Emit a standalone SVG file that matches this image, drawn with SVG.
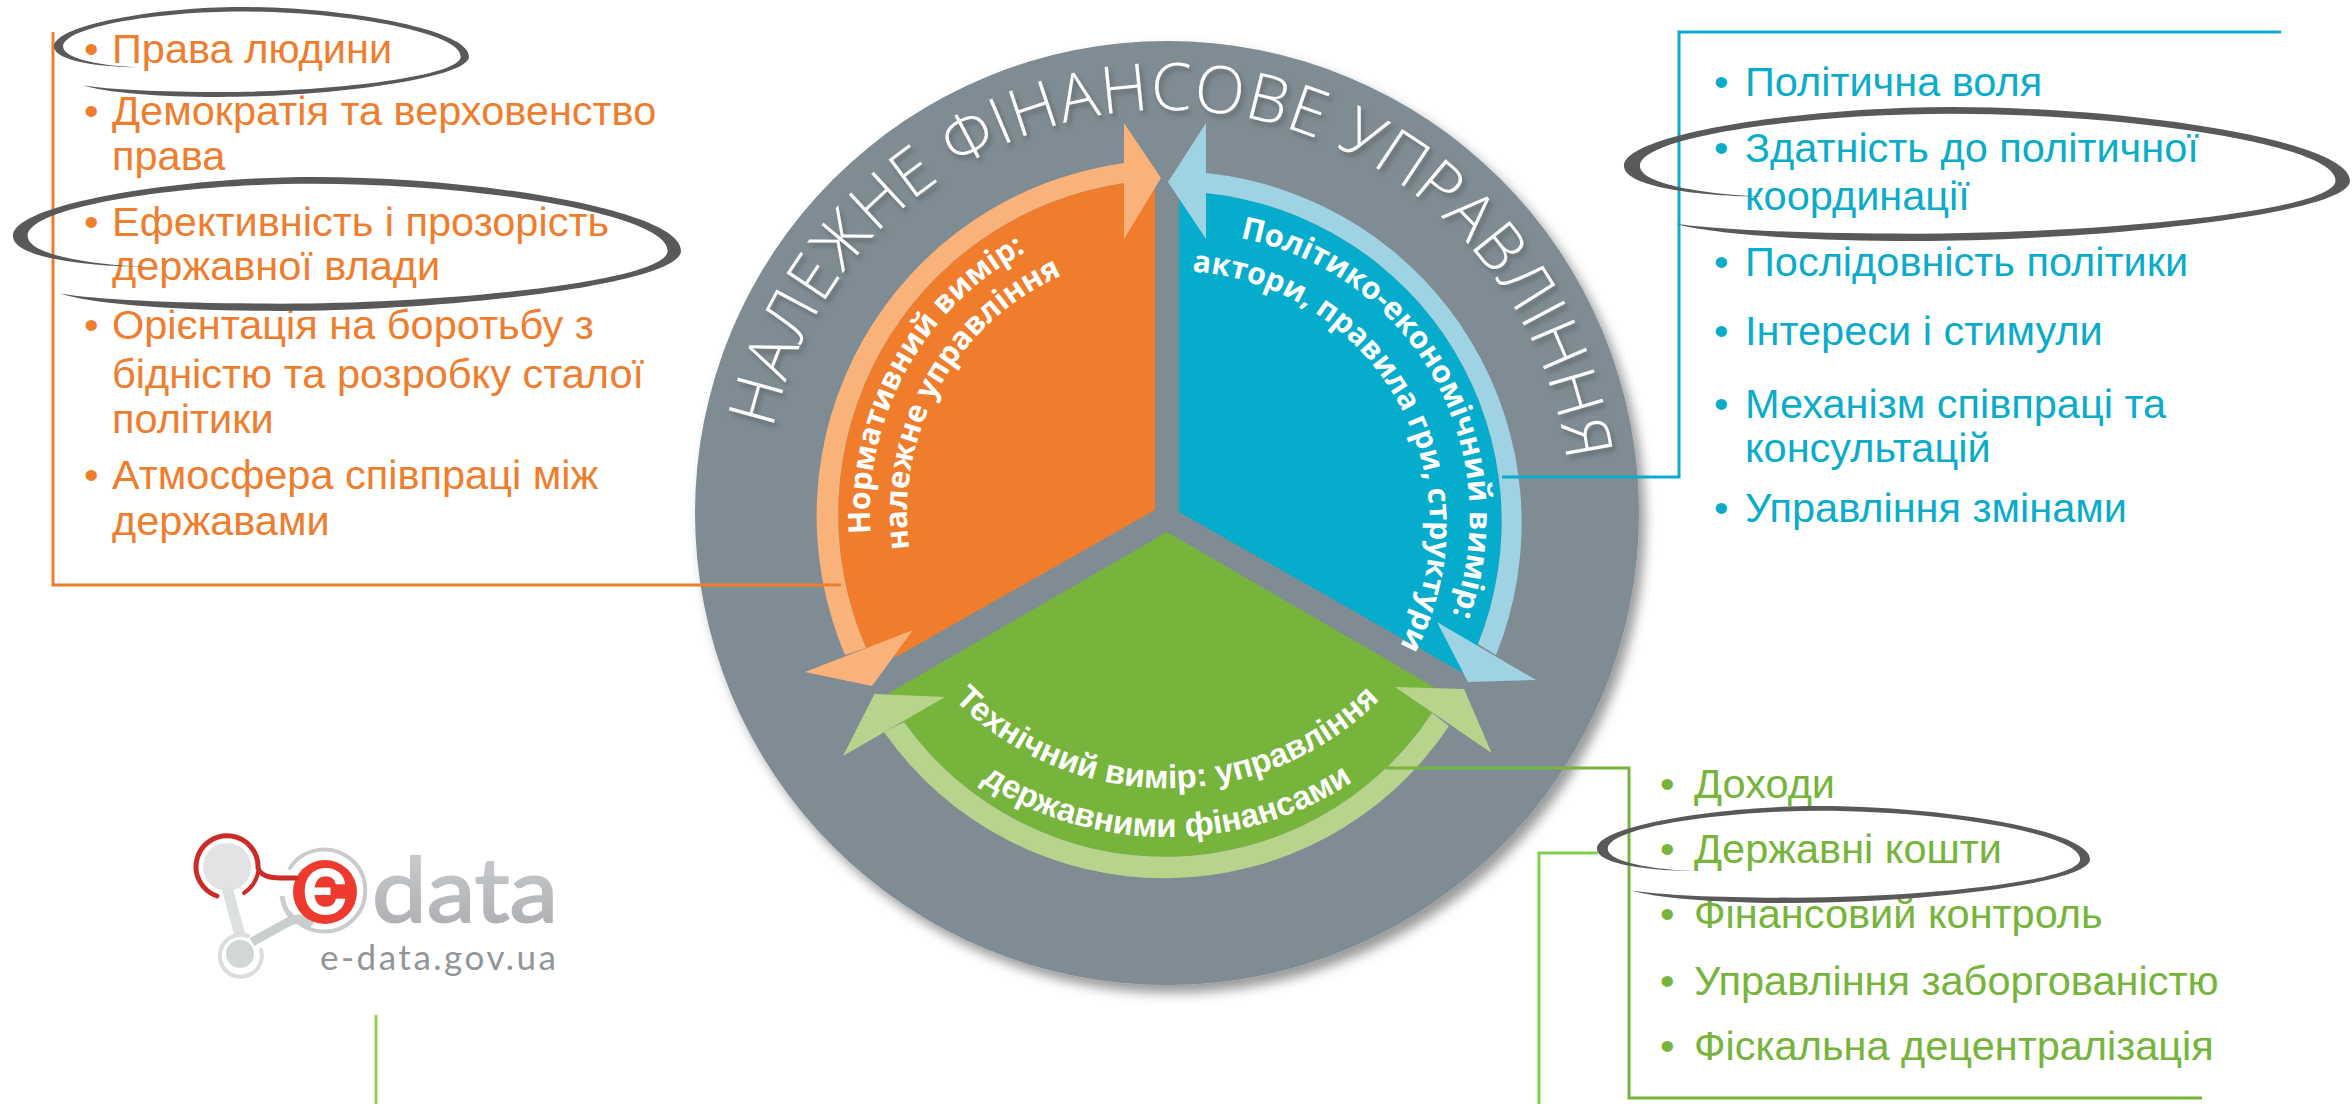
<svg xmlns="http://www.w3.org/2000/svg" width="2352" height="1104" viewBox="0 0 2352 1104">
<defs>
<style>
text{font-family:"Liberation Sans",Arial,sans-serif}
.o{fill:#EE7E2E}.b{fill:#0BACCB}.g{fill:#76B43C}
.li{font-size:41.5px}
.t{fill:#fff;font-family:"Open Sans","Liberation Sans",sans-serif;font-weight:300;font-size:65.5px;letter-spacing:1px}
.c{fill:#fff;font-family:"Open Sans","Liberation Sans",sans-serif;font-weight:700;font-size:31px}
.c2{font-size:30.3px}
.c3{font-size:30.5px}
.cg{fill:#fff;font-family:"Liberation Sans",sans-serif;font-weight:700;font-size:33px}
.ln{fill:none;stroke-width:3}
</style>
<filter id="ds" x="-10%" y="-10%" width="125%" height="125%"><feDropShadow dx="6" dy="8" stdDeviation="6" flood-color="#000" flood-opacity=".4"/></filter>
<filter id="ts" x="-10%" y="-10%" width="120%" height="120%"><feDropShadow dx="3" dy="4" stdDeviation="2.5" flood-color="#000" flood-opacity=".25"/></filter>
<linearGradient id="lg" x1="0" y1="0" x2="0" y2="1"><stop offset="0" stop-color="#CFD2D4"/><stop offset="1" stop-color="#A9ABAE"/></linearGradient>
<path id="p-title" d="M773 429A403 403 0 0 1 1568 471"/>
<path id="p-o1" d="M870.7 533.7A297 297 0 0 1 1065.4 234"/>
<path id="p-o2" d="M909.5 549A260 260 0 0 1 1078 269"/>
<path id="p-b1" d="M1240 238A284 284 0 0 1 1443 637"/>
<path id="p-b2" d="M1192 271.6A255 255 0 0 1 1384 672"/>
<path id="p-g1" d="M945 690A300 300 0 0 0 1389 690"/>
<path id="p-g2" d="M967 772A340 340 0 0 0 1367 772"/>
<path id="brush" fill="#595959" d="M200 670C120 670 0 610 0 440C0 200 250 0 450 0C700 0 1000 250 1000 550C1000 800 650 1000 400 1000C250 1000 120 950 70 870C130 920 260 945 400 945C650 945 980 780 980 550C980 280 700 50 450 50C250 50 22 220 22 440C22 590 130 660 200 670Z"/>
</defs>
<rect width="2352" height="1104" fill="#fff"/>

<g id="disc">
<circle cx="1167" cy="513" r="472" fill="#808C93" filter="url(#ds)"/>
<text class="t" filter="url(#ts)"><textPath href="#p-title">НАЛЕЖНЕ ФІНАНСОВЕ УПРАВЛІННЯ</textPath></text>
</g>

<g id="node-normative">
<path fill="#EF7D2B" d="M1155 183L1124 183A335 335 0 0 0 866 648L896 657L1155 510Z"/>
<path fill="#F9B27A" d="M1124 163A356 356 0 0 0 845 655L866 648A335 335 0 0 1 1124 183Z"/>
<path fill="#F9B27A" d="M1124 123L1161 178L1124 239Z"/>
<path fill="#F9B27A" d="M805 672L913 630L872 686Z"/>
<text class="c c3"><textPath href="#p-o1">Нормативний вимір:</textPath></text>
<text class="c"><textPath href="#p-o2">належне управління</textPath></text>
</g>

<g id="node-political">
<path fill="#05ACCB" d="M1206 193A330 330 0 0 1 1478 644L1463 673L1179 512L1179 190Z"/>
<path fill="#9FD2E3" d="M1206 173A352 352 0 0 1 1496 655L1478 644A330 330 0 0 0 1206 193Z"/>
<path fill="#9FD2E3" d="M1206 123L1168 182L1206 239Z"/>
<path fill="#9FD2E3" d="M1437 622L1536 680L1468 682Z"/>
<text class="c"><textPath href="#p-b1">Політико-економічний вимір:</textPath></text>
<text class="c c2"><textPath href="#p-b2">актори, правила гри, структури</textPath></text>
</g>

<g id="node-technical">
<path fill="#76B43C" d="M1167 532L889 693L904 722A320 320 0 0 0 1432 713L1434 687Z"/>
<path fill="#B7D48D" d="M884 732A342 342 0 0 0 1449 726L1432 713A320 320 0 0 1 904 722Z"/>
<path fill="#B7D48D" d="M874.5 694L945 697L843 756Z"/>
<path fill="#B7D48D" d="M1464 689L1395 687L1491.6 753Z"/>
<text class="cg" text-anchor="middle"><textPath href="#p-g1" startOffset="50%">Технічний вимір: управління</textPath></text>
<text class="cg" text-anchor="middle"><textPath href="#p-g2" startOffset="50%">державними фінансами</textPath></text>
</g>

<g id="connectors">
<path class="ln" stroke="#EE7E2E" d="M53 32V585H841"/>
<path class="ln" stroke="#0BACCB" d="M2281 32H1679V477H1502"/>
<path class="ln" stroke="#76B43C" d="M1386 768H1629V1098H2202"/>
<path class="ln" stroke="#7ED04F" d="M1598 853H1539V1104"/>
<path class="ln" stroke="#92D050" d="M376 1015V1104"/>
</g>

<g id="list-normative" class="o li">
<text x="84" y="63">•</text><text x="112" y="63">Права людини</text>
<text x="84" y="125">•</text><text x="112" y="125">Демократія та верховенство</text>
<text x="112" y="170">права</text>
<text x="84" y="236">•</text><text x="112" y="236">Ефективність і прозорість</text>
<text x="112" y="280">державної влади</text>
<text x="84" y="339">•</text><text x="112" y="339">Орієнтація на боротьбу з</text>
<text x="112" y="388">бідністю та розробку сталої</text>
<text x="112" y="433">політики</text>
<text x="84" y="489">•</text><text x="112" y="489">Атмосфера співпраці між</text>
<text x="112" y="535">державами</text>
</g>

<g id="list-political" class="b li">
<text x="1714" y="96">•</text><text x="1745" y="96">Політична воля</text>
<text x="1714" y="162">•</text><text x="1745" y="162">Здатність до політичної</text>
<text x="1745" y="210">координації</text>
<text x="1714" y="276">•</text><text x="1745" y="276">Послідовність політики</text>
<text x="1714" y="345">•</text><text x="1745" y="345">Інтереси і стимули</text>
<text x="1714" y="418">•</text><text x="1745" y="418">Механізм співпраці та</text>
<text x="1745" y="462">консультацій</text>
<text x="1714" y="522">•</text><text x="1745" y="522">Управління змінами</text>
</g>

<g id="list-technical" class="g li">
<text x="1660" y="798">•</text><text x="1694" y="798">Доходи</text>
<text x="1660" y="863">•</text><text x="1694" y="863">Державні кошти</text>
<text x="1660" y="928">•</text><text x="1694" y="928">Фінансовий контроль</text>
<text x="1660" y="995">•</text><text x="1694" y="995">Управління заборгованістю</text>
<text x="1660" y="1060">•</text><text x="1694" y="1060">Фіскальна децентралізація</text>
</g>

<g id="highlights">
<use href="#brush" transform="translate(54 7) scale(.415 .09)"/>
<use href="#brush" transform="translate(13 177) scale(.668 .134)"/>
<use href="#brush" transform="translate(1624 107) scale(.726 .134)"/>
<use href="#brush" transform="translate(1597 806) scale(.493 .097)"/>
</g>

<g id="logo">
<circle cx="227" cy="867" r="24" fill="#E2E3E4"/>
<path d="M227 888C232 905 234 915 240 935" fill="none" stroke="#DDE0E0" stroke-width="11"/>
<circle cx="240" cy="954" r="14" fill="#D3D6D6"/>
<path d="M248 936A21 21 0 1 0 261 950" fill="none" stroke="#DADDDD" stroke-width="4" stroke-linecap="round"/>
<path d="M252 942L288 922Q300 915 312 925" fill="none" stroke="#C9CECE" stroke-width="9"/>
<path d="M282 896Q284 912 296 922" fill="none" stroke="#C9CECE" stroke-width="5"/>
<path d="M290 868A41 41 0 1 1 290 913" fill="none" stroke="#C8CCCC" stroke-width="4" stroke-linecap="round"/>
<circle cx="325" cy="892" r="32" fill="#EE3A2E"/>
<path d="M217 896A31 31 0 1 1 258 868C262 880 280 878 296 878" fill="none" stroke="#CC2C27" stroke-width="5" stroke-linecap="round"/>
<path d="M244 893Q256 885 258 872" fill="none" stroke="#CC2C27" stroke-width="4" stroke-linecap="round"/>
<text x="325" y="914" text-anchor="middle" font-size="62" font-weight="700" fill="#fff" style="font-family:Inter,sans-serif">Є</text>
<text x="372" y="922" font-size="90" fill="url(#lg)" stroke="url(#lg)" stroke-width="2" textLength="186" lengthAdjust="spacingAndGlyphs" style="font-family:Lato,sans-serif">data</text>
<text x="320" y="970" font-size="35" fill="#929598" textLength="236" style="font-family:Lato,sans-serif">e-data.gov.ua</text>
</g>
</svg>
